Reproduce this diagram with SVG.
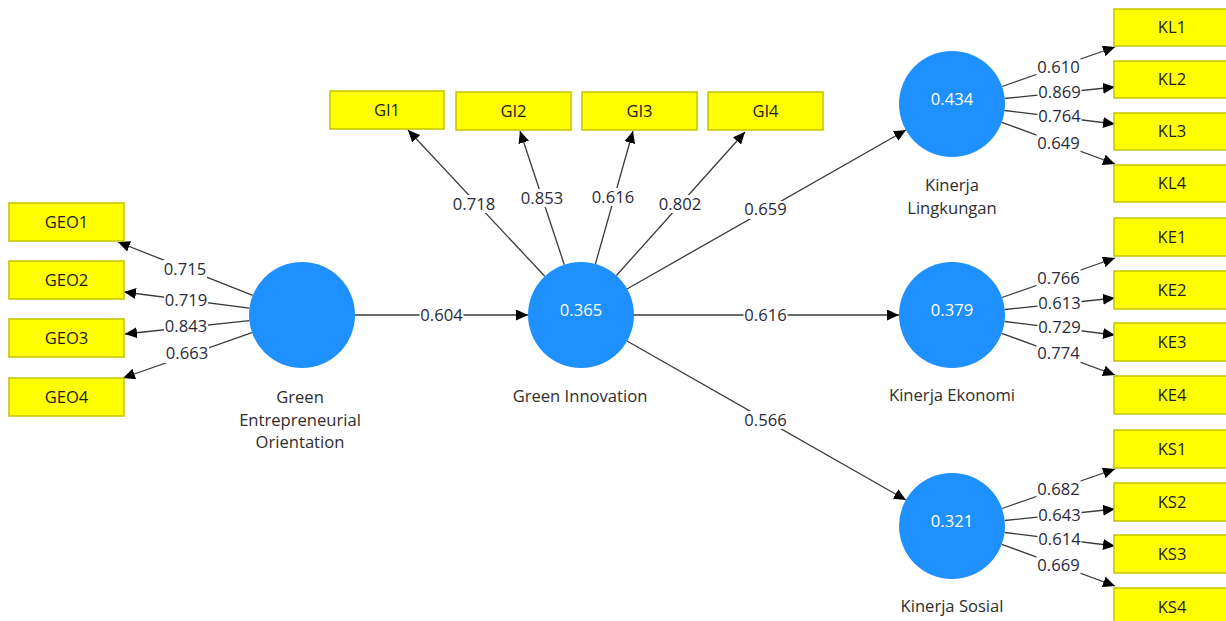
<svg xmlns="http://www.w3.org/2000/svg" width="1226" height="621" viewBox="0 0 1226 621">
<defs>
<marker id="arr" markerUnits="userSpaceOnUse" markerWidth="13" markerHeight="11" refX="12" refY="5.5" orient="auto">
<path d="M0,0 L12,5.5 L0,11 z" fill="#000"/>
</marker>
<style>
text{font-family:"Open Sans","Noto Sans",sans-serif;font-size:16.6px;text-anchor:middle}
.lv{fill:#1e90ff}
.lvt{fill:#ffffff}
.nm{fill:#2e2e2e}
.ind{fill:#ffff00;stroke:#c4c400;stroke-width:1.5}
.indt{fill:#1e1e1e}
.e{stroke:#3a3a3a;stroke-width:1.3;fill:none;marker-end:url(#arr)}
.lb{fill:#fff}
.lt{fill:#2a2a3a}
</style>
</defs>
<rect width="1226" height="621" fill="#fff"/>

<g id="connectors">
<line class="e" x1="252.7" y1="295.4" x2="118" y2="242"/>
<line class="e" x1="249.4" y1="308.2" x2="124" y2="292"/>
<line class="e" x1="249.3" y1="320.7" x2="125" y2="334"/>
<line class="e" x1="252" y1="332.6" x2="123" y2="378"/>
<line class="e" x1="544.8" y1="276.3" x2="408" y2="130"/>
<line class="e" x1="564.3" y1="264.7" x2="520" y2="131"/>
<line class="e" x1="595.4" y1="264" x2="633" y2="131"/>
<line class="e" x1="616.4" y1="275.5" x2="745" y2="132"/>
<line class="e" x1="355" y1="315" x2="528" y2="315"/>
<line class="e" x1="627" y1="289" x2="906" y2="130"/>
<line class="e" x1="634" y1="315" x2="899" y2="315"/>
<line class="e" x1="627" y1="341" x2="906" y2="500"/>
<line class="e" x1="1002" y1="86.5" x2="1115" y2="47"/>
<line class="e" x1="1004.7" y1="98.5" x2="1115" y2="87"/>
<line class="e" x1="1004.6" y1="110.5" x2="1115" y2="124"/>
<line class="e" x1="1001.7" y1="122.3" x2="1115" y2="164"/>
<line class="e" x1="1002" y1="297.5" x2="1115" y2="258"/>
<line class="e" x1="1004.7" y1="309.5" x2="1115" y2="298"/>
<line class="e" x1="1004.6" y1="321.5" x2="1115" y2="335"/>
<line class="e" x1="1001.7" y1="333.3" x2="1115" y2="375"/>
<line class="e" x1="1002" y1="508.5" x2="1115" y2="469"/>
<line class="e" x1="1004.7" y1="520.5" x2="1115" y2="509"/>
<line class="e" x1="1004.6" y1="532.5" x2="1115" y2="546"/>
<line class="e" x1="1001.7" y1="544.3" x2="1115" y2="586"/>

<g>
<rect class="lb" x="163" y="260" width="44" height="18"/><text class="lt" x="185" y="274.5">0.715</text>
<rect class="lb" x="164" y="291" width="44" height="18"/><text class="lt" x="186" y="305.5">0.719</text>
<rect class="lb" x="164" y="318" width="44" height="18"/><text class="lt" x="186" y="332">0.843</text>
<rect class="lb" x="165" y="345" width="44" height="18"/><text class="lt" x="187" y="359">0.663</text>

<rect class="lb" x="452" y="195" width="44" height="18"/><text class="lt" x="474" y="209.5">0.718</text>
<rect class="lb" x="520" y="189" width="44" height="18"/><text class="lt" x="542" y="203.5">0.853</text>
<rect class="lb" x="591" y="188" width="44" height="18"/><text class="lt" x="613" y="202.5">0.616</text>
<rect class="lb" x="658" y="195" width="44" height="18"/><text class="lt" x="680" y="209.5">0.802</text>

<rect class="lb" x="419.5" y="306" width="44" height="18"/><text class="lt" x="441.5" y="320.5">0.604</text>
<rect class="lb" x="743.5" y="201" width="44" height="18"/><text class="lt" x="765.5" y="215">0.659</text>
<rect class="lb" x="743.5" y="306" width="44" height="18"/><text class="lt" x="765.5" y="320.5">0.616</text>
<rect class="lb" x="743.5" y="411" width="44" height="18"/><text class="lt" x="765.5" y="425.5">0.566</text>

<rect class="lb" x="1036.5" y="58" width="44" height="18"/><text class="lt" x="1058.5" y="72.5">0.610</text>
<rect class="lb" x="1037.5" y="83" width="44" height="18"/><text class="lt" x="1059.5" y="97.5">0.869</text>
<rect class="lb" x="1037.5" y="108" width="44" height="18"/><text class="lt" x="1059.5" y="122">0.764</text>
<rect class="lb" x="1036.5" y="134" width="44" height="18"/><text class="lt" x="1058.5" y="148.5">0.649</text>

<rect class="lb" x="1036.5" y="269" width="44" height="18"/><text class="lt" x="1058.5" y="283.5">0.766</text>
<rect class="lb" x="1037.5" y="294" width="44" height="18"/><text class="lt" x="1059.5" y="309">0.613</text>
<rect class="lb" x="1037.5" y="319" width="44" height="18"/><text class="lt" x="1059.5" y="333">0.729</text>
<rect class="lb" x="1036.5" y="345" width="44" height="18"/><text class="lt" x="1058.5" y="359">0.774</text>

<rect class="lb" x="1036.5" y="480" width="44" height="18"/><text class="lt" x="1058.5" y="495">0.682</text>
<rect class="lb" x="1037.5" y="506" width="44" height="18"/><text class="lt" x="1059.5" y="520.5">0.643</text>
<rect class="lb" x="1037.5" y="530" width="44" height="18"/><text class="lt" x="1059.5" y="544.5">0.614</text>
<rect class="lb" x="1036.5" y="556" width="44" height="18"/><text class="lt" x="1058.5" y="570.5">0.669</text>
</g>
</g>

<g id="GEO">
<circle class="lv" cx="302" cy="315" r="53"/>
<text class="nm" x="300" y="403">Green</text>
<text class="nm" x="300" y="426">Entrepreneurial</text>
<text class="nm" x="300" y="448">Orientation</text>
</g>
<g id="GI">
<circle class="lv" cx="581" cy="315" r="53"/>
<text class="lvt" x="581" y="316">0.365</text>
<text class="nm" x="580" y="402">Green Innovation</text>
</g>
<g id="KL">
<circle class="lv" cx="952" cy="104" r="53"/>
<text class="lvt" x="952" y="105">0.434</text>
<text class="nm" x="952" y="191">Kinerja</text>
<text class="nm" x="952" y="214">Lingkungan</text>
</g>
<g id="KE">
<circle class="lv" cx="952" cy="315" r="53"/>
<text class="lvt" x="952" y="316">0.379</text>
<text class="nm" x="952" y="401">Kinerja Ekonomi</text>
</g>
<g id="KS">
<circle class="lv" cx="952" cy="526" r="53"/>
<text class="lvt" x="952" y="527">0.321</text>
<text class="nm" x="952" y="612">Kinerja Sosial</text>
</g>

<g id="GEO1"><rect class="ind" x="9" y="203" width="115" height="38"/><text class="indt" x="66.5" y="227.5">GEO1</text></g>
<g id="GEO2"><rect class="ind" x="9" y="261" width="115" height="38"/><text class="indt" x="66.5" y="285.5">GEO2</text></g>
<g id="GEO3"><rect class="ind" x="9" y="319" width="115" height="38"/><text class="indt" x="66.5" y="343.5">GEO3</text></g>
<g id="GEO4"><rect class="ind" x="9" y="378" width="115" height="38"/><text class="indt" x="66.5" y="402.5">GEO4</text></g>

<g id="GI1"><rect class="ind" x="330" y="91" width="114" height="38"/><text class="indt" x="387" y="115.5">GI1</text></g>
<g id="GI2"><rect class="ind" x="456" y="92" width="115" height="38"/><text class="indt" x="513.5" y="116.5">GI2</text></g>
<g id="GI3"><rect class="ind" x="582" y="92" width="115" height="38"/><text class="indt" x="639.5" y="116.5">GI3</text></g>
<g id="GI4"><rect class="ind" x="708" y="92" width="115" height="38"/><text class="indt" x="765.5" y="116.5">GI4</text></g>

<g id="KL1"><rect class="ind" x="1114" y="9" width="116" height="37"/><text class="indt" x="1172" y="33">KL1</text></g>
<g id="KL2"><rect class="ind" x="1114" y="61" width="116" height="37"/><text class="indt" x="1172" y="85">KL2</text></g>
<g id="KL3"><rect class="ind" x="1114" y="113" width="116" height="37"/><text class="indt" x="1172" y="137">KL3</text></g>
<g id="KL4"><rect class="ind" x="1114" y="165" width="116" height="37"/><text class="indt" x="1172" y="189">KL4</text></g>

<g id="KE1"><rect class="ind" x="1114" y="218" width="116" height="38"/><text class="indt" x="1172" y="242.5">KE1</text></g>
<g id="KE2"><rect class="ind" x="1114" y="271" width="116" height="38"/><text class="indt" x="1172" y="295.5">KE2</text></g>
<g id="KE3"><rect class="ind" x="1114" y="323" width="116" height="38"/><text class="indt" x="1172" y="347.5">KE3</text></g>
<g id="KE4"><rect class="ind" x="1114" y="376" width="116" height="38"/><text class="indt" x="1172" y="400.5">KE4</text></g>

<g id="KS1"><rect class="ind" x="1114" y="430" width="116" height="38"/><text class="indt" x="1172" y="454.5">KS1</text></g>
<g id="KS2"><rect class="ind" x="1114" y="483" width="116" height="38"/><text class="indt" x="1172" y="507.5">KS2</text></g>
<g id="KS3"><rect class="ind" x="1114" y="535" width="116" height="38"/><text class="indt" x="1172" y="559.5">KS3</text></g>
<g id="KS4"><rect class="ind" x="1114" y="588" width="116" height="38"/><text class="indt" x="1172" y="612.5">KS4</text></g>
</svg>
